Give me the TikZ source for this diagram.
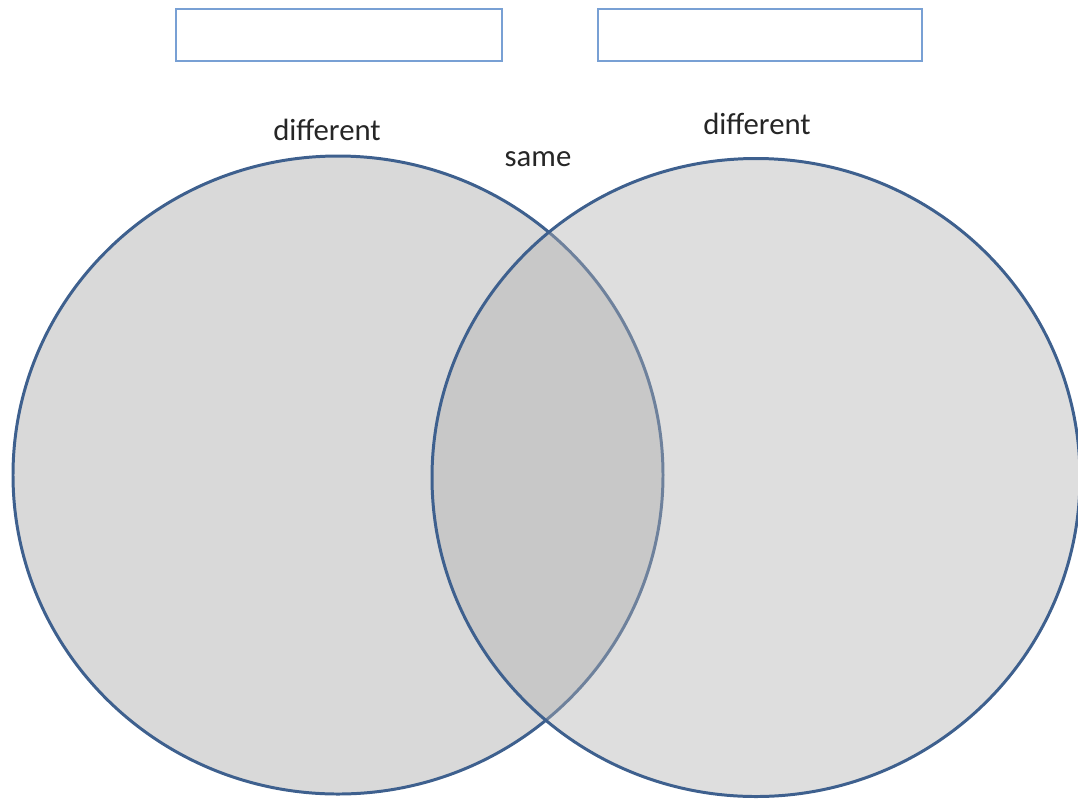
\documentclass[tikz,border=0pt]{standalone}
\usepackage{fontspec}
\usetikzlibrary{shapes.geometric}
\setmainfont{Carlito}
\definecolor{ringblue}{RGB}{62,96,142}
\definecolor{boxblue}{RGB}{120,160,212}
\definecolor{leftfill}{RGB}{217,217,217}
\definecolor{rightfill}{RGB}{177,177,177}
\begin{document}
\begin{tikzpicture}[x=0.02cm,y=-0.02cm,
  ring/.style={draw=ringblue,line width=1.7pt,ellipse,inner sep=0pt,outer sep=0pt},
  titlebox/.style={draw=boxblue,line width=1.1pt,fill=white},
  lbl/.style={font=\fontsize{17.5}{20}\selectfont,text=black!85,inner sep=0pt}]
\useasboundingbox (0,0) rectangle (1078,799);
\node[ring,minimum width=650*0.02cm,minimum height=638*0.02cm,fill=leftfill] (L) at (338,475) {};
\node[ring,minimum width=648*0.02cm,minimum height=638*0.02cm,fill=rightfill,fill opacity=0.42] (R) at (756,477.5) {};
\draw[titlebox] (176,9) rectangle (502,61);
\draw[titlebox] (598,9) rectangle (922,61);
\node[lbl] (d1) at (327,130) {different};
\node[lbl] (d2) at (757,124) {different};
\node[lbl] (s) at (538,159) {same};
\end{tikzpicture}
\end{document}
